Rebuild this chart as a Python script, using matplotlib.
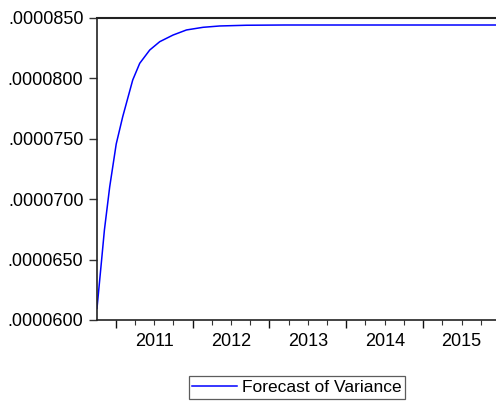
import matplotlib
matplotlib.use("Agg")
import matplotlib.pyplot as plt
from matplotlib.ticker import FixedLocator, FuncFormatter

# Decimal-year positions and forecast variance values
years = [2010.7565, 2010.8164, 2010.8529, 2010.9219, 2011.0065, 2011.0911, 2011.2214,
         2011.3125, 2011.4427, 2011.5729, 2011.7461, 2011.9206, 2012.1367, 2012.3542,
         2012.70, 2013.20, 2014.00, 2015.948]
variance = [0.00006097, 0.00006497, 0.00006745, 0.00007103, 0.00007457, 0.00007683,
            0.00007987, 0.00008125, 0.00008235, 0.00008304, 0.00008359, 0.00008401,
            0.00008423, 0.00008434, 0.00008440, 0.00008442, 0.00008442, 0.00008442]
yticks = [0.0000600, 0.0000650, 0.0000700, 0.0000750, 0.0000800, 0.0000850]
year_labels = [2011, 2012, 2013, 2014, 2015]

plt.rcParams['font.family'] = ['Liberation Sans', 'DejaVu Sans']

fig = plt.figure(figsize=(4.96, 4.08), dpi=100)
ax = fig.add_axes([97/496, 1-320/408, 1-97/496, (320-18)/408])

line, = ax.plot(years, variance, color='#0000ff', lw=1.1, label='Forecast of Variance',
                solid_joinstyle='round')

ax.set_xlim(2010.7565, 2015.948)
ax.set_ylim(yticks[0], yticks[-1])
ax.set_yticks(yticks)
ax.yaxis.set_major_formatter(FuncFormatter(lambda v, p: f"{v:.7f}".lstrip('0')))

major = [y for y in range(2011, 2016)]
minor = [y + q/4 for y in range(2010, 2016) for q in range(1, 4)]
ax.xaxis.set_major_locator(FixedLocator(major))
ax.xaxis.set_minor_locator(FixedLocator(minor))
ax.xaxis.set_major_formatter(FuncFormatter(lambda v, p: ''))
ax.xaxis.set_minor_formatter(FuncFormatter(
    lambda v, p: str(int(v)) if abs(v % 1 - 0.5) < 1e-6 and int(v) in year_labels else ''))

ax.tick_params(axis='y', which='major', direction='out', length=5.8, width=1.0,
               labelsize=13, pad=4, color='#333333')
ax.tick_params(axis='x', which='major', direction='out', length=5.8, width=1.0, color='#111111')
ax.tick_params(axis='x', which='minor', direction='out', length=3.6, width=0.8,
               labelsize=13, pad=6, color='#333333')

for s in ['left', 'bottom', 'top']:
    ax.spines[s].set_color('#222222')
    ax.spines[s].set_linewidth(1.2)
ax.spines['top'].set_linewidth(1.5)
ax.spines['right'].set_visible(False)

leg = fig.legend(handles=[line], loc='center', bbox_to_anchor=(297/496, 1-387.5/408),
                 fontsize=12.5, frameon=True, fancybox=False, handlelength=2.6,
                 handletextpad=0.3, borderpad=0.2, borderaxespad=0)
leg.get_frame().set_edgecolor('#333333')
leg.get_frame().set_linewidth(0.9)

fig.savefig('out.png', dpi=100)
